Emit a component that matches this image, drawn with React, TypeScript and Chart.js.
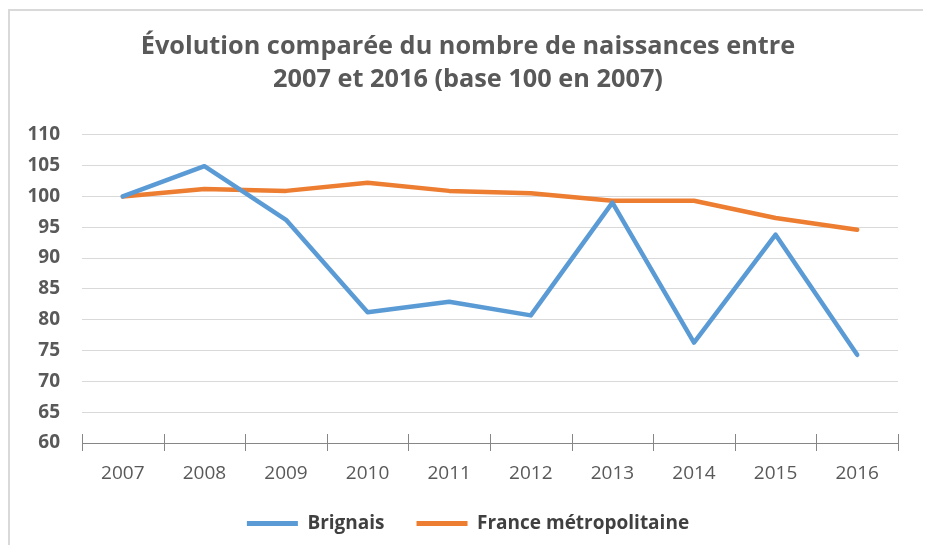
import React, { useEffect, useRef } from 'react';
import { Chart, registerables } from 'chart.js';

Chart.register(...registerables);

const titleLines = ['Évolution comparée du nombre de naissances entre', '2007 et 2016 (base 100 en 2007)'];
const years = ['2007', '2008', '2009', '2010', '2011', '2012', '2013', '2014', '2015', '2016'];
const brignais = [100, 104.9, 96.2, 81.2, 82.9, 80.7, 99.0, 76.3, 93.8, 74.3];
const france = [100, 101.2, 100.9, 102.2, 100.9, 100.5, 99.3, 99.3, 96.5, 94.6];
const seriesNames = ['Brignais', 'France métropolitaine'];
const yMin = 60;
const yMax = 110;
const yStep = 5;

const FONT = "'Open Sans', sans-serif";

const crossTicks = {
  id: 'crossTicks',
  afterDraw(chart: any) {
    const x = chart.scales.x;
    const bottom = chart.chartArea.bottom;
    const ctx = chart.ctx;
    ctx.save();
    ctx.strokeStyle = '#868686';
    ctx.lineWidth = 1;
    for (let i = 0; i <= years.length; i++) {
      const px = Math.round(x.getPixelForValue(i - 0.5)) + 0.5;
      ctx.beginPath();
      ctx.moveTo(px, bottom - 9);
      ctx.lineTo(px, bottom + 8);
      ctx.stroke();
    }
    ctx.restore();
  },
};

export default function App() {
  const canvasRef = useRef<HTMLCanvasElement | null>(null);

  useEffect(() => {
    if (!canvasRef.current) return;
    const chart = new Chart(canvasRef.current, {
      type: 'line',
      data: {
        labels: years,
        datasets: [
          {
            label: seriesNames[0],
            data: brignais,
            borderColor: '#5B9BD5',
            backgroundColor: '#5B9BD5',
            borderWidth: 4.5,
            pointRadius: 0,
            tension: 0,
            borderJoinStyle: 'round',
            borderCapStyle: 'round',
          },
          {
            label: seriesNames[1],
            data: france,
            borderColor: '#ED7D31',
            backgroundColor: '#ED7D31',
            borderWidth: 4.5,
            pointRadius: 0,
            tension: 0,
            borderJoinStyle: 'round',
            borderCapStyle: 'round',
          },
        ],
      },
      options: {
        animation: false,
        responsive: true,
        maintainAspectRatio: false,
        layout: { padding: { left: 0, right: 0, top: 0, bottom: 2 } },
        plugins: {
          tooltip: { enabled: false },
          title: {
            display: true,
            text: titleLines,
            color: '#595959',
            font: { family: FONT, size: 25.3, weight: 'bold', lineHeight: 1.3 },
            padding: { top: 19, bottom: 39 },
          },
          legend: {
            display: true,
            position: 'bottom',
            labels: {
              boxWidth: 51,
              boxHeight: 5,
              padding: 32,
              color: '#404040',
              font: { family: FONT, size: 19, weight: 'bold' },
              generateLabels: (ch: any) =>
                ch.data.datasets.map((ds: any, i: number) => ({
                  text: ds.label,
                  fillStyle: ds.borderColor,
                  strokeStyle: ds.borderColor,
                  lineWidth: 0,
                  fontColor: '#404040',
                  hidden: false,
                  datasetIndex: i,
                })),
            },
          },
        },
        scales: {
          x: {
            offset: true,
            grid: { display: false },
            border: { display: true, color: '#868686', width: 1 },
            ticks: {
              color: '#595959',
              padding: 11,
              font: { family: FONT, size: 19 },
              maxRotation: 0,
            },
            afterFit: (s: any) => {
              s.height = 39;
            },
          },
          y: {
            min: yMin,
            max: yMax,
            grid: { color: '#D9D9D9', lineWidth: 1, drawTicks: false },
            border: { display: false },
            ticks: {
              stepSize: yStep,
              color: '#595959',
              padding: 22,
              font: { family: FONT, size: 19, weight: 'bold' },
            },
            afterFit: (s: any) => {
              s.width = 72;
            },
          },
          yRight: {
            position: 'right',
            display: true,
            grid: { display: false },
            border: { display: false },
            ticks: { display: false },
            afterFit: (s: any) => {
              s.width = 28;
            },
          },
        },
      },
      plugins: [crossTicks],
    });
    return () => chart.destroy();
  }, []);

  return (
    <div
      style={{
        marginTop: 1,
        width: 920,
        height: 536,
        boxSizing: 'border-box',
        borderTop: '2px solid #D9D9D9',
        borderLeft: '2px solid #D9D9D9',
        borderRight: '2px solid #D9D9D9',
        background: '#fff',
        position: 'relative',
      }}
    >
      <canvas ref={canvasRef} />
    </div>
  );
}
